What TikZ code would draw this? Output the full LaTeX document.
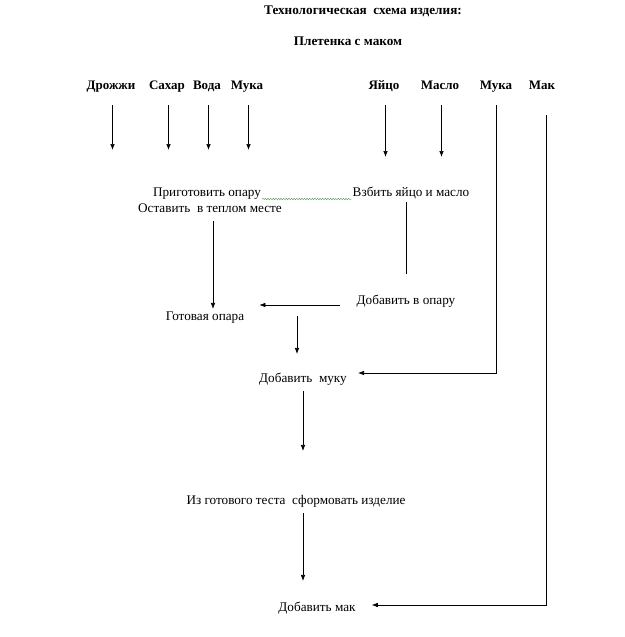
\documentclass[tikz,border=0pt]{standalone}
\usepackage{fontspec}
\setmainfont{Liberation Serif}
\usetikzlibrary{arrows.meta, positioning, calc, decorations.pathmorphing}
\definecolor{squiggle}{RGB}{80,150,80}

\tikzset{
  head/.style={font=\bfseries\fontsize{13.2}{15}\selectfont, inner sep=1pt},
  ingr/.style={font=\bfseries\fontsize{13}{15}\selectfont, inner sep=1pt, text height=1.6ex, text depth=.5ex},
  stepnode/.style={font=\fontsize{13.2}{15}\selectfont, inner sep=1pt, text height=1.6ex, text depth=.5ex},
  flow/.style={-{Latex[length=6pt,width=4.5pt]}, line width=0.6pt},
  plain/.style={line width=0.6pt},
}

\begin{document}
\begin{tikzpicture}[x=1pt, y=-1pt]
    \useasboundingbox (0,0) rectangle (624,637);

    % titles
    \node[head] (title) at (363,11) {Технологическая\ \ схема изделия:};
    \node[head] (subtitle) at (348,41) {Плетенка с маком};

    % ingredients
    \node[ingr] (drozh) at (111,87) {Дрожжи};
    \node[ingr] (sahar) at (167,87) {Сахар};
    \node[ingr] (voda)  at (207,87) {Вода};
    \node[ingr] (muka1) at (247,87) {Мука};
    \node[ingr] (yaico) at (384,87) {Яйцо};
    \node[ingr] (maslo) at (440,87) {Масло};
    \node[ingr] (muka2) at (496,87) {Мука};
    \node[ingr] (mak)   at (542,87) {Мак};

    % steps
    \node[stepnode] (prigot)   at (207,194) {Приготовить опару};
    \node[stepnode] (ostavit)  at (210,210) {Оставить\ \ в теплом месте};
    \node[stepnode] (vzbit)    at (411,194) {Взбить яйцо и масло};
    \node[stepnode] (dobav)    at (406,302) {Добавить в опару};
    \node[stepnode] (gotovaya) at (205,318) {Готовая опара};
    \node[stepnode] (dobmuku)  at (303,380) {Добавить\ \ муку};
    \node[stepnode] (izgot)    at (296,502) {Из готового теста\ \ сформовать изделие};
    \node[stepnode] (dobmak)   at (317,609) {Добавить мак};

    % ingredient arrows
    \foreach \n/\e in {drozh/150, sahar/150, voda/150, muka1/150, yaico/157, maslo/157} {
        \coordinate (\n end) at ($(\n.south |- 0,\e)+(1.5,0)$);
        \draw[flow] ($(\n.south |- 0,105)+(1.5,0)$) -- (\n end);
    }

    % spelling mark
    \draw[squiggle, decorate, decoration={snake, amplitude=0.7pt, segment length=2.6pt}]
        ([yshift=-5pt]prigot.east) -- ([yshift=-5pt]vzbit.west);

    % flow
    \draw[plain] ([yshift=-2pt]vzbit.south -| dobav.north) -- ([yshift=22pt]dobav.north);
    \draw[flow] ([xshift=-15pt,yshift=-3pt]dobav.west) -- ([xshift=14pt,yshift=-3pt]dobav.west -| gotovaya.east);
    \draw[flow] ([xshift=3pt,yshift=-5pt]ostavit.south) -- ([xshift=3pt,yshift=3pt]ostavit.south |- gotovaya.north);
    \draw[flow] ([xshift=-6pt,yshift=2pt]dobmuku.north |- gotovaya.center) -- ([xshift=-6pt,yshift=20pt]dobmuku.north);
    \draw[flow] (muka2.south |- 0,105) |- ([xshift=10pt,yshift=7pt]dobmuku.east);
    \draw[flow] ([yshift=-5pt]dobmuku.south) -- ([yshift=45pt]dobmuku.south |- izgot.north);
    \draw[flow] ([yshift=-5pt]dobmuku.south |- izgot.south) -- ([yshift=22pt]dobmuku.south |- dobmak.north);
    \draw[flow] ($(mak.south |- 0,115)+(4,0)$) |- ([xshift=15pt,yshift=4pt]dobmak.east);
\end{tikzpicture}
\end{document}
